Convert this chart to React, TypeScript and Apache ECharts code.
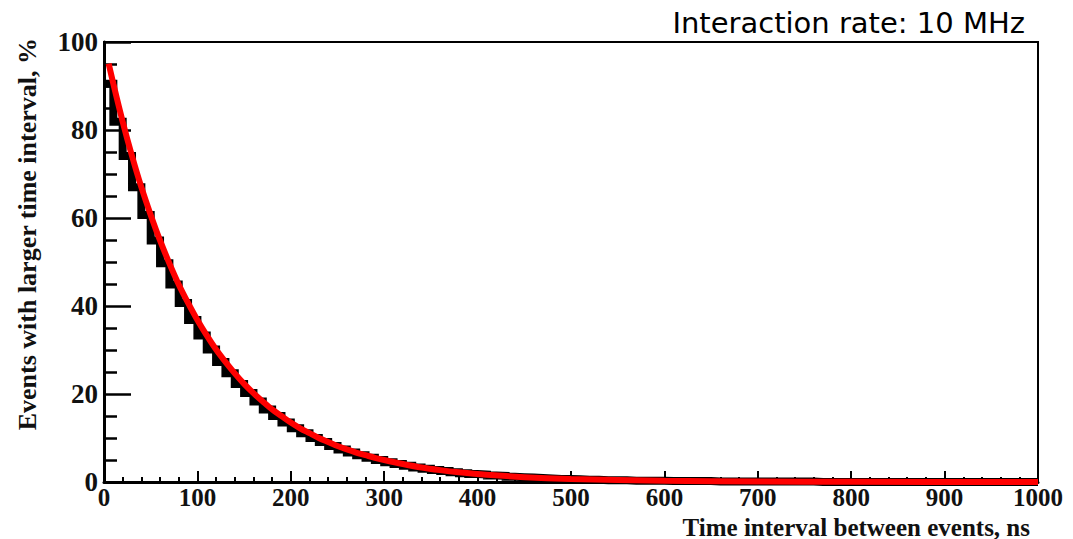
import React, { useEffect, useRef } from "react";
import * as echarts from "echarts";

// Time-interval axis ticks (ns)
const xTicks = [0, 100, 200, 300, 400, 500, 600, 700, 800, 900, 1000];
// Histogram bin width (ns) and bin contents (%), bins start at 0 ns
const binWidth = 10;
const histValues = [
  90.5, 81.9, 74.1, 67.0, 60.7, 54.9, 49.7, 44.9, 40.7, 36.8,
  33.3, 30.1, 27.3, 24.7, 22.3, 20.2, 18.3, 16.5, 15.0, 13.5,
  12.2, 11.1, 10.0, 9.1, 8.2, 7.4, 6.7, 6.1, 5.5, 5.0,
  4.5, 4.1, 3.7, 3.3, 3.0, 2.7, 2.5, 2.2, 2.0, 1.8,
  1.7, 1.5, 1.4, 1.2, 1.1, 1.0, 0.9, 0.8, 0.7, 0.7,
  0.6, 0.5, 0.5, 0.4, 0.4, 0.4, 0.3, 0.3, 0.3, 0.3,
  0.2, 0.2, 0.2, 0.2, 0.2, 0.1, 0.1, 0.1, 0.1, 0.1,
  0.1, 0.1, 0.1, 0.1, 0.1, 0.1, 0.0, 0.0, 0.0, 0.0,
  0.0, 0.0, 0.0, 0.0, 0.0, 0.0, 0.0, 0.0, 0.0, 0.0,
  0.0, 0.0, 0.0, 0.0, 0.0, 0.0, 0.0, 0.0, 0.0, 0.0,
];
// Exponential fit curve sample points
const fitTimes = [
  5, 10, 20, 30, 40, 50, 60, 70, 80, 90, 100, 110, 120, 130, 140, 150, 160,
  170, 180, 190, 200, 210, 220, 230, 240, 250, 260, 270, 280, 290, 300, 320,
  340, 360, 380, 400, 450, 500, 600, 700, 800, 1000,
];
const fitValues = [
  95.1, 90.5, 81.9, 74.1, 67.0, 60.7, 54.9, 49.7, 44.9, 40.7, 36.8, 33.3,
  30.1, 27.3, 24.7, 22.3, 20.2, 18.3, 16.5, 15.0, 13.5, 12.2, 11.1, 10.0, 9.1,
  8.2, 7.4, 6.7, 6.1, 5.5, 5.0, 4.1, 3.3, 2.7, 2.2, 1.8, 1.1, 0.7, 0.3, 0.1,
  0.05, 0.0,
];

const title = "Interaction rate: 10 MHz";
const xTitle = "Time interval between events, ns";
const yTitle = "Events with larger time interval, %";

export default function App() {
  const ref = useRef<HTMLDivElement>(null);
  useEffect(() => {
    if (!ref.current) return;
    const chart = echarts.init(ref.current, undefined, { renderer: "svg" });
    const histData: [number, number][] = histValues.map((v, i) => [i * binWidth, v]);
    histData.push([histValues.length * binWidth, histValues[histValues.length - 1]]);
    const fitData = fitTimes.map((t, i) => [t, fitValues[i]]);
    const serif = "Liberation Serif";
    chart.setOption({
      animation: false,
      backgroundColor: "#fff",
      grid: {
        left: 104,
        right: 35,
        top: 42,
        bottom: 57,
        show: true,
        borderColor: "#000",
        borderWidth: 2,
        backgroundColor: "transparent",
      },
      xAxis: {
        type: "value",
        min: xTicks[0],
        max: xTicks[xTicks.length - 1],
        interval: 100,
        axisLine: { lineStyle: { color: "#000", width: 3 } },
        axisTick: { inside: true, length: 11, lineStyle: { color: "#000", width: 2 } },
        minorTick: { show: true, splitNumber: 5, length: 5, lineStyle: { color: "#000", width: 2 } },
        splitLine: { show: false },
        minorSplitLine: { show: false },
        axisLabel: {
          fontFamily: serif,
          fontWeight: "bold",
          fontSize: 25,
          color: "#111",
          margin: 3,
          formatter: (v: number) => String(v),
        },
      },
      yAxis: {
        type: "value",
        min: 0,
        max: 100,
        interval: 20,
        axisLine: { lineStyle: { color: "#000", width: 3 } },
        axisTick: { inside: true, length: 27, lineStyle: { color: "#000", width: 2.5 } },
        minorTick: { show: true, splitNumber: 4, length: 13, lineStyle: { color: "#000", width: 2.5 } },
        splitLine: { show: false },
        minorSplitLine: { show: false },
        axisLabel: {
          fontFamily: serif,
          fontWeight: "bold",
          fontSize: 27,
          color: "#111",
          margin: 6,
        },
      },
      series: [
        {
          type: "line",
          data: histData,
          step: "end",
          symbol: "none",
          clip: false,
          lineStyle: { color: "#000", width: 8, join: "miter" },
          z: 2,
        },
        {
          type: "line",
          data: fitData,
          smooth: 0.3,
          symbol: "none",
          clip: false,
          lineStyle: { color: "#ff0000", width: 6 },
          z: 3,
        },
      ],
      graphic: [
        {
          type: "text",
          x: 1025,
          y: 23,
          style: {
            text: title,
            fontFamily: "DejaVu Sans",
            fontSize: 29,
            fill: "#000",
            textAlign: "right",
            textVerticalAlign: "middle",
          },
        },
        {
          type: "text",
          x: 1030,
          y: 527,
          style: {
            text: xTitle,
            fontFamily: serif,
            fontWeight: "bold",
            fontSize: 25,
            fill: "#111",
            textAlign: "right",
            textVerticalAlign: "middle",
          },
        },
        {
          type: "text",
          x: 27,
          y: 38,
          rotation: Math.PI / 2,
          style: {
            text: yTitle,
            fontFamily: serif,
            fontWeight: "bold",
            fontSize: 26,
            fill: "#111",
            textAlign: "right",
            textVerticalAlign: "middle",
          },
        },
      ],
    });
    return () => chart.dispose();
  }, []);
  return <div ref={ref} style={{ width: 1073, height: 539, position: "absolute", left: 0, top: 0 }} />;
}
